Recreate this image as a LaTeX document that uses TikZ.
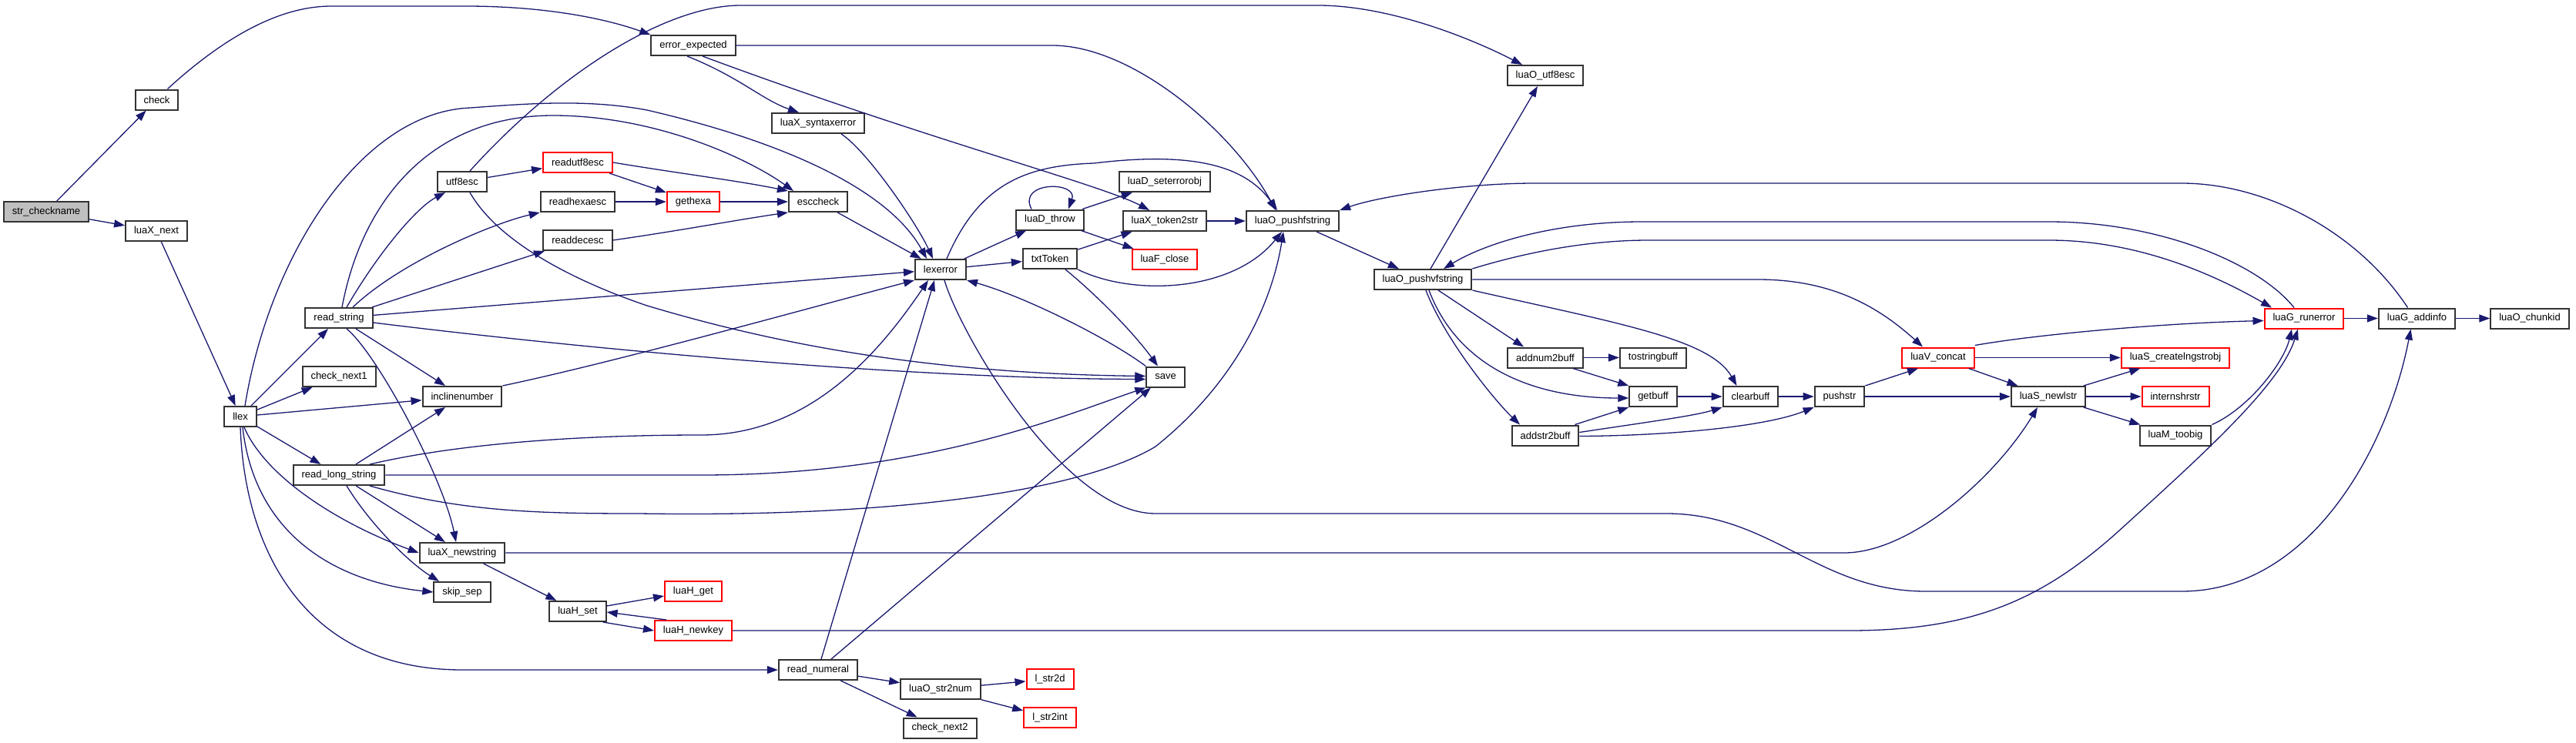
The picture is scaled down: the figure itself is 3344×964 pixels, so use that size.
\documentclass[tikz,border=0pt]{standalone}
\usepackage{fontspec}
\setmainfont{Liberation Sans}
\usetikzlibrary{arrows.meta}
\definecolor{edgec}{HTML}{191970}
\definecolor{redc}{HTML}{FF0000}
\definecolor{fillg}{HTML}{BFBFBF}
\definecolor{boxc}{HTML}{333333}
\begin{document}
\begin{tikzpicture}[x=1pt,y=-1pt,
  fn/.style={draw=boxc, line width=2pt, fill=white, minimum height=26pt, inner xsep=11pt, inner ysep=0pt, font=\fontsize{13}{15}\selectfont},
  rn/.style={fn, draw=redc},
  gn/.style={fn, fill=fillg},
  e/.style={draw=edgec, line width=1.3pt, -{Triangle[length=14pt,width=10pt]}},
]
\useasboundingbox (0,0) rectangle (3344,964);
% nodes
\node[gn] (strcheckname) at (60,275) {str\_checkname};
\node[fn] (check) at (203.5,129.5) {check};
\node[fn] (luaXnext) at (203,300) {luaX\_next};
\node[fn] (llex) at (312,541) {llex};
\node[fn] (readstring) at (440,413) {read\_string};
\node[fn] (checknexta) at (440,489) {check\_next1};
\node[fn] (readlongstring) at (440,617) {read\_long\_string};
\node[fn] (utfesc) at (600,236) {utf8esc};
\node[fn] (inclinenumber) at (600,515) {inclinenumber};
\node[fn] (luaXnewstring) at (600,718) {luaX\_newstring};
\node[fn] (skipsep) at (600,769) {skip\_sep};
\node[rn] (readutfesc) at (750,211) {readutf8esc};
\node[fn] (readhexaesc) at (750,262) {readhexaesc};
\node[fn] (readdecesc) at (750,312) {readdecesc};
\node[fn] (luaHset) at (750,794) {luaH\_set};
\node[fn] (errorexpected) at (900,59) {error\_expected};
\node[rn] (gethexa) at (900,262) {gethexa};
\node[rn] (luaHget) at (900,768) {luaH\_get};
\node[rn] (luaHnewkey) at (900,819) {luaH\_newkey};
\node[fn] (luaXsyntaxerror) at (1062,160) {luaX\_syntaxerror};
\node[fn] (esccheck) at (1062,262) {esccheck};
\node[fn] (readnumeral) at (1062,870) {read\_numeral};
\node[fn] (lexerror) at (1221,350) {lexerror};
\node[fn] (luaOstrnum) at (1221,895) {luaO\_str2num};
\node[fn] (checknextb) at (1220,945.5) {check\_next2};
\node[fn] (luaDthrow) at (1363,285.5) {luaD\_throw};
\node[fn] (txtToken) at (1363,336) {txtToken};
\node[rn] (lstrd) at (1363,882) {l\_str2d};
\node[rn] (lstrint) at (1363,932) {l\_str2int};
\node[fn] (luaDseterrorobj) at (1512,236) {luaD\_seterrorobj};
\node[fn] (luaXtokenstr) at (1512,287) {luaX\_token2str};
\node[rn] (luaFclose) at (1512,337) {luaF\_close};
\node[fn] (save) at (1513,489.5) {save};
\node[fn] (luaOpushfstring) at (1678,287) {luaO\_pushfstring};
\node[fn] (luaOpushvfstring) at (1847,363) {luaO\_pushvfstring};
\node[fn] (luaOutfesc) at (2006,98) {luaO\_utf8esc};
\node[fn] (addnumbuff) at (2006,464.5) {addnum2buff};
\node[fn] (addstrbuff) at (2006,565.5) {addstr2buff};
\node[fn] (tostringbuff) at (2146,464.5) {tostringbuff};
\node[fn] (getbuff) at (2146,515) {getbuff};
\node[fn] (clearbuff) at (2272.5,515) {clearbuff};
\node[fn] (pushstr) at (2388,515) {pushstr};
\node[rn] (luaVconcat) at (2516,464.5) {luaV\_concat};
\node[fn] (luaSnewlstr) at (2659,515) {luaS\_newlstr};
\node[rn] (luaScreatelngstrobj) at (2824,464.5) {luaS\_createlngstrobj};
\node[rn] (internshrstr) at (2824,515) {internshrstr};
\node[fn] (luaMtoobig) at (2824,565.5) {luaM\_toobig};
\node[rn] (luaGrunerror) at (2991,413.5) {luaG\_runerror};
\node[fn] (luaGaddinfo) at (3137.5,413.5) {luaG\_addinfo};
\node[fn] (luaOchunkid) at (3284,413.5) {luaO\_chunkid};
% edges
\draw[e] (strcheckname) -- (check);
\draw[e] (strcheckname) -- (luaXnext);
\draw[e] ([xshift=14pt]check.north) .. controls (300,40) and (370,8) .. (430,8) -- (605,8) .. controls (700,8) and (780,22) .. (errorexpected.north west);
\draw[e] (luaXnext) -- (llex);
\draw[e] (llex) -- (readstring);
\draw[e] (llex) -- (checknexta);
\draw[e] (llex) -- (inclinenumber);
\draw[e] (llex) -- (readlongstring);
\draw[e] ([xshift=5pt]llex.south) .. controls (345,620) and (440,680) .. (luaXnewstring.west);
\draw[e] ([xshift=3pt]llex.south) .. controls (330,690) and (430,755) .. (skipsep.west);
\draw[e] (llex.south) .. controls (318,720) and (400,870) .. (600,870) -- (readnumeral.west);
\draw[e] ([xshift=6pt]llex.north) .. controls (350,330) and (470,145) .. (611,140) .. controls (680,135) and (760,128) .. (840,143) .. controls (1000,180) and (1150,240) .. ([xshift=-18pt]lexerror.north);
% read_string
\draw[e] ([xshift=4pt]readstring.north) .. controls (470,260) and (560,150) .. (718,150) .. controls (850,150) and (970,205) .. ([xshift=-32pt]esccheck.north);
\draw[e] ([xshift=10pt]readstring.north) .. controls (490,330) and (540,270) .. ([xshift=-22pt]utfesc.south);
\draw[e] ([xshift=18pt]readstring.north) .. controls (520,340) and (640,290) .. (readhexaesc.south west);
\draw[e] (readstring) -- (readdecesc);
\draw[e] (readstring) -- (lexerror);
\draw[e] ([yshift=-6pt]readstring.east) .. controls (800,458) and (1200,492) .. ([yshift=-3pt]save.west);
\draw[e] (readstring) -- (inclinenumber);
\draw[e] ([xshift=10pt]readstring.south) .. controls (490,460) and (575,620) .. ([xshift=-8pt]luaXnewstring.north);
% read_long_string
\draw[e] (readlongstring) -- (inclinenumber);
\draw[e] (readlongstring) -- (luaXnewstring);
\draw[e] ([xshift=10pt]readlongstring.south) .. controls (480,680) and (530,730) .. ([xshift=-30pt]skipsep.north);
\draw[e] ([xshift=40pt]readlongstring.north) .. controls (600,575) and (760,565) .. (910,565) .. controls (1050,565) and (1140,460) .. ([xshift=-16pt]lexerror.south);
\draw[e] (readlongstring.east) -- (910,617) .. controls (1200,617) and (1380,540) .. (save.south west);
\draw[e] ([xshift=40pt]readlongstring.south) .. controls (600,665) and (700,667) .. (830,667) .. controls (1150,672) and (1400,640) .. (1500,580) .. controls (1600,500) and (1650,400) .. ([xshift=-12pt]luaOpushfstring.south);
\draw[e] (inclinenumber.north east) .. controls (800,470) and (1050,400) .. (lexerror.south west);
% luaX_newstring, luaH
\draw[e] (luaXnewstring) -- (luaHset);
\draw[e] (luaXnewstring.east) -- (2394,718) .. controls (2480,718) and (2590,620) .. ([xshift=-14pt]luaSnewlstr.south);
\draw[e] ([yshift=7pt]luaHset.east) -- ([yshift=-6pt]luaHget.west);
\draw[e] ([xshift=-5pt]luaHset.south east) -- (luaHnewkey.west);
\draw[e] ([xshift=16pt]luaHnewkey.north west) -- ([yshift=-1pt]luaHset.east);
\draw[e] (luaHnewkey.east) -- (2400,819) .. controls (2560,819) and (2650,780) .. (2750,690) .. controls (2860,590) and (2960,500) .. ([xshift=-8pt]luaGrunerror.south);
\draw[e] (luaMtoobig.north east) .. controls (2920,530) and (2965,470) .. ([xshift=-16pt]luaGrunerror.south);
% lexerror
\draw[e] (lexerror) -- (luaDthrow);
\draw[e] (lexerror) -- (txtToken);
\draw[e] ([xshift=8pt]lexerror.north) .. controls (1270,240) and (1330,215) .. (1420,212) .. controls (1560,195) and (1620,220) .. ([xshift=-20pt]luaOpushfstring.north);
\draw[e] ([xshift=5pt]lexerror.south) .. controls (1245,430) and (1380,667) .. (1500,667) -- (2163,667) .. controls (2300,667) and (2360,768) .. (2500,768) -- (2832,768) .. controls (3000,768) and (3100,580) .. ([xshift=-8pt]luaGaddinfo.south);
\draw[e] (save.north west) .. controls (1440,440) and (1330,385) .. (lexerror.south east);
\draw[e] ([xshift=20pt]txtToken.south) .. controls (1420,380) and (1470,430) .. ([xshift=-10pt]save.north);
\draw[e] (txtToken) -- (luaXtokenstr);
\draw[e] (txtToken.south east) .. controls (1470,385) and (1600,380) .. ([xshift=-14pt]luaOpushfstring.south);
\draw[e] ([xshift=-24pt]luaDthrow.north) .. controls (1320,235) and (1400,235) .. ([xshift=24pt]luaDthrow.north);
\draw[e] (luaDthrow) -- (luaDseterrorobj);
\draw[e] (luaDthrow) -- (luaFclose);
\draw[e] (luaXtokenstr) -- (luaOpushfstring);
% error_expected
\draw[e] ([xshift=-8pt]errorexpected.south) .. controls (960,100) and (990,130) .. ([xshift=-25pt]luaXsyntaxerror.north);
\draw[e] ([xshift=12pt]errorexpected.south) .. controls (1200,180) and (1430,240) .. ([xshift=-20pt]luaXtokenstr.north);
\draw[e] (errorexpected.east) -- (1366,59) .. controls (1470,59) and (1600,170) .. ([xshift=-22pt]luaOpushfstring.north);
\draw[e] (esccheck) -- (lexerror);
\draw[e] ([xshift=30pt]luaXsyntaxerror.south) .. controls (1125,195) and (1190,290) .. ([xshift=-10pt]lexerror.north);
% escapes
\draw[e] (readutfesc) -- (gethexa);
\draw[e] (readutfesc.east) .. controls (880,225) and (960,235) .. (esccheck.north west);
\draw[e] (readhexaesc) -- (gethexa);
\draw[e] (gethexa) -- (esccheck);
\draw[e] (readdecesc.east) .. controls (880,300) and (960,285) .. (esccheck.south west);
\draw[e] (utfesc) -- (readutfesc);
\draw[e] ([xshift=10pt]utfesc.north) .. controls (720,100) and (860,8) .. (960,7) -- (1714,7) .. controls (1800,8) and (1900,45) .. ([xshift=-30pt]luaOutfesc.north);
\draw[e] ([xshift=10pt]utfesc.south) .. controls (650,320) and (760,370) .. (840,397) .. controls (1000,445) and (1200,485) .. ([yshift=1pt]save.west);
% read_numeral
\draw[e] ([xshift=4pt]readnumeral.north) -- ([xshift=-8pt]lexerror.south);
\draw[e] ([xshift=17pt]readnumeral.north) -- ([xshift=-19pt]save.south);
\draw[e] (readnumeral) -- (luaOstrnum);
\draw[e] (readnumeral) -- (checknextb);
\draw[e] (luaOstrnum) -- (lstrd);
\draw[e] (luaOstrnum) -- (lstrint);
% pushfstring family
\draw[e] (luaOpushfstring) -- (luaOpushvfstring);
\draw[e] ([xshift=10pt]luaOpushvfstring.north) -- ([xshift=-10pt]luaOutfesc.south);
\draw[e] ([xshift=-13pt]luaGrunerror.north) .. controls (2930,340) and (2800,288) .. (2660,288) -- (2131,288) .. controls (2020,288) and (1930,315) .. ([xshift=27pt]luaOpushvfstring.north);
\draw[e] (luaOpushvfstring.north east) .. controls (1980,328) and (2060,312) .. (2140,312) -- (2660,312) .. controls (2780,312) and (2880,360) .. ([xshift=-42pt]luaGrunerror.north);
\draw[e] ([xshift=-12pt]luaGaddinfo.north) .. controls (3060,300) and (2940,238) .. (2832,238) -- (1992,238) .. controls (1900,238) and (1790,255) .. (luaOpushfstring.north east);
\draw[e] (luaOpushvfstring.east) -- (2282,363) .. controls (2380,363) and (2440,400) .. ([xshift=-20pt]luaVconcat.north);
\draw[e] ([xshift=20pt]luaOpushvfstring.south) -- ([xshift=-28pt]addnumbuff.north);
\draw[e] ([xshift=8pt]luaOpushvfstring.south) .. controls (1890,470) and (1980,517) .. ([yshift=-2pt]getbuff.west);
\draw[e] ([xshift=4pt]luaOpushvfstring.south) .. controls (1875,440) and (1940,520) .. ([xshift=-33pt]addstrbuff.north);
\draw[e] (luaOpushvfstring.south east) .. controls (2100,420) and (2220,440) .. ([xshift=-18pt]clearbuff.north);
\draw[e] (addnumbuff) -- (tostringbuff);
\draw[e] ([xshift=-14pt]addnumbuff.south east) -- (getbuff.north west);
\draw[e] ([xshift=-6pt]addstrbuff.north east) -- (getbuff.south west);
\draw[e] ([yshift=4pt]addstrbuff.east) .. controls (2140,548) and (2200,540) .. (clearbuff.south west);
\draw[e] ([yshift=-1pt]addstrbuff.east) .. controls (2160,566) and (2290,555) .. (pushstr.south west);
\draw[e] (getbuff) -- (clearbuff);
\draw[e] (clearbuff) -- (pushstr);
\draw[e] (pushstr) -- (luaSnewlstr);
\draw[e] (pushstr.north east) -- ([xshift=-26pt]luaVconcat.south);
\draw[e] ([yshift=2pt]luaVconcat.north east) .. controls (2640,435) and (2800,420) .. ([yshift=-3pt]luaGrunerror.west);
\draw[e] (luaVconcat) -- (luaScreatelngstrobj);
\draw[e] (luaVconcat) -- (luaSnewlstr);
\draw[e] (luaSnewlstr) -- (luaScreatelngstrobj);
\draw[e] (luaSnewlstr) -- (internshrstr);
\draw[e] (luaSnewlstr) -- (luaMtoobig);
\draw[e] (luaGrunerror) -- (luaGaddinfo);
\draw[e] (luaGaddinfo) -- (luaOchunkid);
\end{tikzpicture}
\end{document}
